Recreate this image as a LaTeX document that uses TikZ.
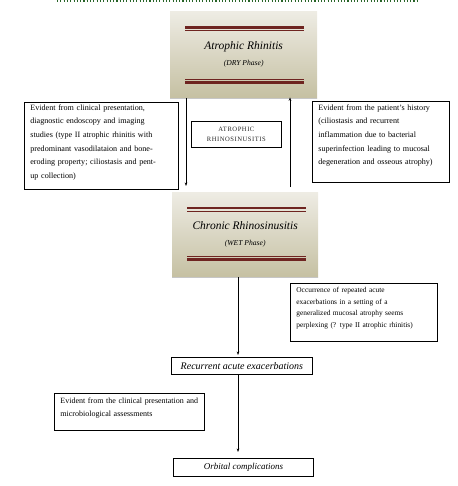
\documentclass[tikz,border=0pt]{standalone}
\usepackage{fontspec}
\setmainfont{Liberation Serif}
\usepackage{xcolor,tikz}
\usetikzlibrary{arrows.meta}
\definecolor{phasetop}{RGB}{238,236,228}
\definecolor{phasebot}{RGB}{197,192,162}
\definecolor{phaserule}{RGB}{110,36,32}
\definecolor{dotgreen}{RGB}{40,100,40}

\begin{document}
\begin{tikzpicture}[x=1pt,y=-1pt,every node/.style={font=\small},
  phase/.style={anchor=north west,inner sep=0pt,top color=phasetop,bottom color=phasebot,
    align=center,minimum height=87pt},
  note/.style={draw,line width=.8pt,anchor=north west,align=left,inner xsep=6pt,inner ysep=3pt},
  stage/.style={draw,line width=.8pt,anchor=north west,inner sep=0pt,minimum height=18pt,
    font=\fontsize{9}{10}\selectfont\itshape},
  flow/.style={-{Stealth[length=3.5pt,width=2.6pt]},line width=.7pt}]
\useasboundingbox (0,0) rectangle (457,486);
\draw[dotgreen,line width=1.1pt,dash pattern=on 1.1pt off 2.2pt] (57,1)--(418,1);
\node[phase,minimum width=147pt] (dry) at (170,11) {{\fontsize{11.5}{13}\selectfont\itshape Atrophic Rhinitis}\\[5pt]{\fontsize{7.6}{9}\selectfont\itshape (DRY Phase)}};
\draw[gray!45,line width=1pt] (170,98.5)--(317,98.5);
\draw[phaserule,line width=2.6pt] (185,27.5)--(304,27.5);
\draw[phaserule,line width=.8pt] (185,30.6)--(304,30.6);
\draw[phaserule,line width=.8pt] (185,79.4)--(304,79.4);
\draw[phaserule,line width=2.6pt] (185,82.4)--(304,82.4);
\node[phase,minimum width=146pt,minimum height=85pt] (wet) at (172,192) {{\fontsize{11.5}{13}\selectfont\itshape Chronic Rhinosinusitis}\\[5pt]{\fontsize{7.6}{9}\selectfont\itshape (WET Phase)}};
\draw[gray!45,line width=1pt] (172,277.5)--(318,277.5);
\draw[phaserule,line width=2.6pt] (187,208)--(306,208);
\draw[phaserule,line width=.8pt] (187,211.2)--(306,211.2);
\draw[phaserule,line width=.8pt] (187,256.6)--(306,256.6);
\draw[phaserule,line width=2.6pt] (187,259.6)--(306,259.6);
\node[note,text width=142pt,text height=5pt,text depth=76pt,font=\fontsize{8.1}{13.6}\selectfont] (evclin) at (24,102) {Evident from clinical presentation,\\diagnostic endoscopy and imaging\\studies (type II atrophic rhinitis with\\predominant vasodilataion and bone-\\eroding property; ciliostasis and pent-\\up collection)};
\node[note,text width=125pt,text height=6pt,text depth=69pt,font=\fontsize{8.1}{13.6}\selectfont] (evhist) at (312,101) {Evident from the patient's history\\(ciliostasis and recurrent\\inflammation due to bacterial\\superinfection leading to mucosal\\degeneration and osseous atrophy)};
\node[draw,line width=.8pt,anchor=north west,align=center,minimum width=90pt,minimum height=26pt,inner sep=0pt,
  text=black!85,font=\fontsize{6.6}{10}\selectfont\addfontfeature{LetterSpace=8}] (ars) at (191,121) {ATROPHIC\\RHINOSINUSITIS};
\coordinate (dnaxis) at (186,0);
\coordinate (upaxis) at (290,0);
\coordinate (midaxis) at (238,0);
\draw[flow] (dry.south -| dnaxis)--([yshift=6pt]wet.north -| dnaxis);
\draw[flow] ([yshift=5pt]wet.north -| upaxis)--([yshift=1pt]dry.south -| upaxis);
\node[note,text width=135pt,text height=6pt,text depth=46pt,font=\fontsize{7.4}{11.7}\selectfont] (occ) at (290,283) {Occurrence of repeated acute\\exacerbations in a setting of a\\generalized mucosal atrophy seems\\perplexing (? type II atrophic rhinitis)};
\node[stage,minimum width=141pt,minimum height=17pt,font=\fontsize{10}{11}\selectfont\itshape] (recur) at (171,357) {Recurrent acute exacerbations};
\draw[flow] (wet.south -| midaxis)--([yshift=2pt]recur.north -| midaxis);
\node[note,text width=138pt,text height=7pt,text depth=24pt,font=\fontsize{8}{13}\selectfont] (evmicro) at (54,393) {Evident from the clinical presentation and\\microbiological assessments};
\node[stage,minimum width=140pt] (orbit) at (173,458) {Orbital complications};
\draw[flow] (recur.south -| midaxis)--([yshift=6pt]orbit.north -| midaxis);
\end{tikzpicture}
\end{document}
